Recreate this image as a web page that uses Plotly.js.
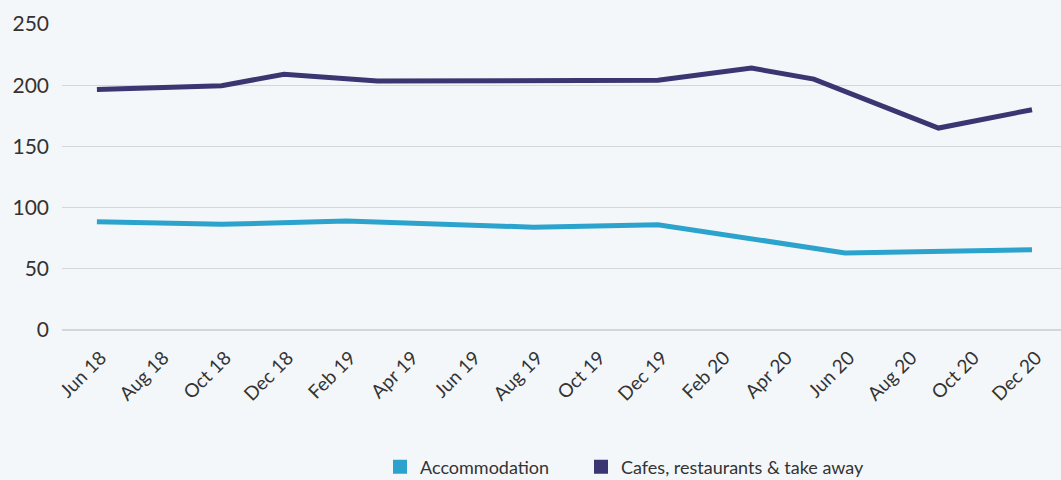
<!DOCTYPE html>
<html>
<head>
<meta charset="utf-8">
<script src="https://cdn.plot.ly/plotly-3.0.1.min.js"></script>
<style>
  html, body { margin: 0; padding: 0; background: #f3f7fa; }
  #chart { width: 1061px; height: 480px; }
</style>
</head>
<body>
<div id="chart"></div>
<script>
// All months on the category axis (Jun 18 .. Dec 20)
const months = [
  "Jun 18","Jul 18","Aug 18","Sep 18","Oct 18","Nov 18","Dec 18",
  "Jan 19","Feb 19","Mar 19","Apr 19","May 19","Jun 19","Jul 19","Aug 19","Sep 19","Oct 19","Nov 19","Dec 19",
  "Jan 20","Feb 20","Mar 20","Apr 20","May 20","Jun 20","Jul 20","Aug 20","Sep 20","Oct 20","Nov 20","Dec 20"
];
// Labelled ticks (every second month)
const tickLabels = [
  "Jun 18","Aug 18","Oct 18","Dec 18","Feb 19","Apr 19","Jun 19","Aug 19",
  "Oct 19","Dec 19","Feb 20","Apr 20","Jun 20","Aug 20","Oct 20","Dec 20"
];

// Accommodation
const accMonths = ["Jun 18","Oct 18","Feb 19","Aug 19","Dec 19","Jun 20","Dec 20"];
const accValues = [88.5, 86.3, 89, 84, 86, 63, 65.5];

// Cafes, restaurants & take away
const cafMonths = ["Jun 18","Oct 18","Dec 18","Mar 19","Dec 19","Mar 20","May 20","Sep 20","Dec 20"];
const cafValues = [196.5, 199.5, 209, 203.5, 204, 214, 205, 165, 180];

const names = ["Accommodation", "Cafes, restaurants & take away"];
const colors = ["#2ba3cc", "#393671"];

const traces = [
  { x: accMonths, y: accValues, type: "scatter", mode: "lines", name: names[0],
    line: { color: colors[0], width: 5 }, showlegend: false },
  { x: cafMonths, y: cafValues, type: "scatter", mode: "lines", name: names[1],
    line: { color: colors[1], width: 5 }, showlegend: false },
  // legend swatches (square markers)
  { x: [null], y: [null], type: "scatter", mode: "markers", name: names[0], legend: "legend",
    marker: { symbol: "square", size: 14, color: colors[0] } },
  { x: [null], y: [null], type: "scatter", mode: "markers", name: names[1], legend: "legend2",
    marker: { symbol: "square", size: 14, color: colors[1] } }
];

const font = "Lato, Open Sans, sans-serif";
const txt = "#333333";
const legendCommon = {
  orientation: "h",
  yref: "container", y: 1 - 467 / 480, yanchor: "middle",
  xref: "container", xanchor: "left",
  font: { family: font, size: 18, color: txt },
  bgcolor: "rgba(0,0,0,0)"
};

const layout = {
  width: 1061, height: 480,
  paper_bgcolor: "#f3f7fa", plot_bgcolor: "#f3f7fa",
  margin: { l: 62, r: 0, t: 24, b: 150, autoexpand: false },
  font: { family: font, color: txt },
  xaxis: {
    type: "category",
    categoryorder: "array", categoryarray: months,
    range: [-1.12, 30.93],
    tickmode: "array", tickvals: tickLabels, ticktext: tickLabels,
    tickangle: -45,
    tickfont: { family: font, size: 19, color: txt },
    ticklabelstandoff: 12, ticklabelshift: 4,
    showgrid: false, zeroline: false, showline: false, ticks: ""
  },
  yaxis: {
    range: [0, 250],
    tickmode: "linear", tick0: 0, dtick: 50,
    tickfont: { family: font, size: 21, color: txt },
    showgrid: true, gridcolor: "#d3d7db", gridwidth: 1.2,
    zeroline: true, zerolinecolor: "#d3d7db", zerolinewidth: 1.2,
    showline: false, ticks: "", ticklabelstandoff: 12
  },
  showlegend: true,
  legend: Object.assign({}, legendCommon, { x: 380 / 1061 }),
  legend2: Object.assign({}, legendCommon, { x: 581 / 1061 })
};

Plotly.newPlot("chart", traces, layout, { displayModeBar: false, staticPlot: true });
</script>
</body>
</html>
